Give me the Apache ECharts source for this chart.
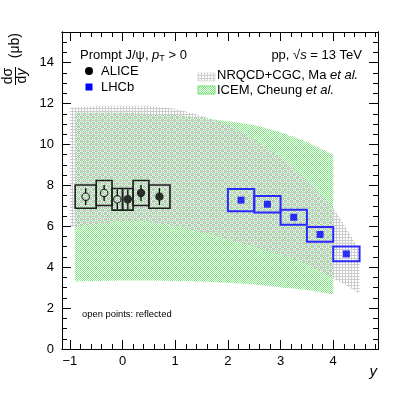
<!DOCTYPE html>
<html>
<head>
<meta charset="utf-8">
<script src="https://cdn.jsdelivr.net/npm/echarts@6/dist/echarts.min.js"></script>
<style>
html, body { margin: 0; padding: 0; background: #fff; }
#main { width: 407px; height: 397px; }
</style>
</head>
<body>
<div id="main"></div>
<script>
// axis ranges and tick labels
var X_MIN = -1.15, X_MAX = 4.85;
var Y_MIN = 0, Y_MAX = 15.5;
var xTicks = [-1, 0, 1, 2, 3, 4];
var yTicks = [0, 2, 4, 6, 8, 10, 12, 14];
var xMinorTicks = [];
for (var t = -1.0; t < X_MAX; t += 0.2) xMinorTicks.push(Math.round(t * 10) / 10);
var yMinorTicks = [];
for (var u = 0; u <= Y_MAX; u += 0.5) yMinorTicks.push(u);

// NRQCD+CGC, Ma et al. band
var nrqcdX  = [-1.0, -0.5, 0.0, 0.5, 1.0, 1.5, 2.0, 2.5, 3.0, 3.5, 4.0, 4.25, 4.5];
var nrqcdHi = [11.8, 11.9, 11.9, 11.9, 11.75, 11.4, 10.95, 10.25, 9.4, 8.25, 6.9, 5.9, 4.8];
var nrqcdLo = [5.95, 6.1, 6.25, 6.2, 6.0, 5.7, 5.35, 5.0, 4.6, 4.15, 3.45, 3.1, 2.7];

// ICEM, Cheung et al. band
var icemX  = [-0.9, -0.5, 0.0, 0.5, 1.0, 1.5, 2.0, 2.5, 3.0, 3.5, 4.0];
var icemHi = [11.55, 11.55, 11.55, 11.5, 11.45, 11.3, 11.13, 10.95, 10.6, 10.12, 9.5];
var icemLo = [3.3, 3.33, 3.35, 3.35, 3.33, 3.3, 3.24, 3.15, 3.02, 2.88, 2.68];

// ALICE (first three points are reflected)
var aliceY     = [-0.7, -0.35, -0.1, 0.1, 0.35, 0.7];
var aliceBinLo = [-0.9, -0.5, -0.2, 0.0, 0.2, 0.5];
var aliceBinHi = [-0.5, -0.2, 0.0, 0.2, 0.5, 0.9];
var aliceVal   = [7.45, 7.63, 7.32, 7.32, 7.63, 7.45];
var aliceStat  = [0.41, 0.39, 0.48, 0.48, 0.39, 0.41];
var aliceSys   = [0.57, 0.61, 0.53, 0.53, 0.61, 0.57];
var aliceOpen  = [true, true, true, false, false, false];

// LHCb
var lhcbY     = [2.25, 2.75, 3.25, 3.75, 4.25];
var lhcbBinLo = [2.0, 2.5, 3.0, 3.5, 4.0];
var lhcbBinHi = [2.5, 3.0, 3.5, 4.0, 4.5];
var lhcbVal   = [7.28, 7.08, 6.44, 5.6, 4.65];
var lhcbSys   = [0.54, 0.40, 0.37, 0.36, 0.36];

var FONT = '"Liberation Sans", Arial, sans-serif';

function makePattern(size, draw) {
    var c = document.createElement('canvas');
    c.width = size; c.height = size;
    draw(c.getContext('2d'));
    return c;
}
var grayPat = makePattern(3, function (ctx) {
    ctx.fillStyle = '#cdcdcd';
    ctx.fillRect(0, 0, 3, 1);
    ctx.fillRect(0, 0, 1, 3);
});
var greenPat = makePattern(2, function (ctx) {
    ctx.fillStyle = 'rgb(125,232,125)';
    ctx.fillRect(0, 0, 1, 1);
    ctx.fillRect(1, 1, 1, 1);
});
var grayFill = { image: grayPat, repeat: 'repeat' };
var greenFill = { image: greenPat, repeat: 'repeat' };

function bandRows(xs, lo, hi) {
    return xs.map(function (x, i) { return [x, lo[i], hi[i]]; });
}
function bandItem(xs, lo, hi, fill) {
    return function (params, api) {
        if (params.dataIndex !== 0) return null;
        var pts = [];
        for (var i = 0; i < xs.length; i++) pts.push(api.coord([xs[i], hi[i]]));
        for (var j = xs.length - 1; j >= 0; j--) pts.push(api.coord([xs[j], lo[j]]));
        return { type: 'polygon', shape: { points: pts }, style: { fill: fill } };
    };
}
function boxItem(color, lw) {
    return function (params, api) {
        var p0 = api.coord([api.value(2), api.value(1) + api.value(4)]);
        var p1 = api.coord([api.value(3), api.value(1) - api.value(4)]);
        return {
            type: 'rect',
            shape: { x: p0[0], y: p0[1], width: p1[0] - p0[0], height: p1[1] - p0[1] },
            style: { fill: 'none', stroke: color, lineWidth: lw }
        };
    };
}
var R = 3.7;
function statItem(params, api) {
    var top = api.coord([api.value(0), api.value(1) + api.value(2)]);
    var mid = api.coord([api.value(0), api.value(1)]);
    var bot = api.coord([api.value(0), api.value(1) - api.value(2)]);
    var st = { stroke: '#000', lineWidth: 1.3 };
    return {
        type: 'group',
        children: [
            { type: 'line', shape: { x1: top[0], y1: top[1], x2: mid[0], y2: mid[1] - R }, style: st },
            { type: 'line', shape: { x1: mid[0], y1: mid[1] + R, x2: bot[0], y2: bot[1] }, style: st }
        ]
    };
}

var aliceBoxes = aliceY.map(function (x, i) { return [x, aliceVal[i], aliceBinLo[i], aliceBinHi[i], aliceSys[i]]; });
var aliceStatRows = aliceY.map(function (x, i) { return [x, aliceVal[i], aliceStat[i]]; });
var aliceOpenPts = [], aliceFullPts = [];
aliceY.forEach(function (x, i) { (aliceOpen[i] ? aliceOpenPts : aliceFullPts).push([x, aliceVal[i]]); });
var lhcbBoxes = lhcbY.map(function (x, i) { return [x, lhcbVal[i], lhcbBinLo[i], lhcbBinHi[i], lhcbSys[i]]; });
var lhcbPts = lhcbY.map(function (x, i) { return [x, lhcbVal[i]]; });

function axisX(pos, ticks, len, labels) {
    return {
        type: 'value', position: pos, min: X_MIN, max: X_MAX,
        splitLine: { show: false },
        axisLine: { show: true, onZero: false, lineStyle: { color: '#000', width: 1 } },
        axisTick: { show: true, inside: true, length: len, customValues: ticks, lineStyle: { color: '#000', width: 1 } },
        axisLabel: {
            show: labels, customValues: ticks, margin: 6, color: '#000', fontSize: 13, fontFamily: FONT,
            formatter: function (v) { return String(v).replace('-', '\u2212'); }
        }
    };
}
function axisY(pos, ticks, len, labels) {
    return {
        type: 'value', position: pos, min: Y_MIN, max: Y_MAX,
        splitLine: { show: false },
        axisLine: { show: true, onZero: false, lineStyle: { color: '#000', width: 1 } },
        axisTick: { show: true, inside: true, length: len, customValues: ticks, lineStyle: { color: '#000', width: 1 } },
        axisLabel: { show: labels, customValues: ticks, margin: 8, color: '#000', fontSize: 13, fontFamily: FONT }
    };
}

var myChart = echarts.init(document.getElementById('main'), null, { renderer: 'canvas' });

var option = {
    animation: false,
    backgroundColor: '#fff',
    grid: { left: 62, right: 29, top: 32, bottom: 48 },
    xAxis: [
        axisX('bottom', xTicks, 9, true),
        axisX('bottom', xMinorTicks, 5, false),
        axisX('top', xTicks, 9, false),
        axisX('top', xMinorTicks, 5, false)
    ],
    yAxis: [
        axisY('left', yTicks, 9, true),
        axisY('left', yMinorTicks, 5, false),
        axisY('right', yTicks, 9, false),
        axisY('right', yMinorTicks, 5, false)
    ],
    series: [
        { type: 'custom', silent: true, data: bandRows(icemX, icemLo, icemHi), renderItem: bandItem(icemX, icemLo, icemHi, greenFill) },
        { type: 'custom', silent: true, data: bandRows(nrqcdX, nrqcdLo, nrqcdHi), renderItem: bandItem(nrqcdX, nrqcdLo, nrqcdHi, grayFill) },
        { type: 'custom', silent: true, data: aliceBoxes, renderItem: boxItem('#1e1e1e', 1.6) },
        { type: 'custom', silent: true, data: aliceStatRows, renderItem: statItem },
        {
            type: 'scatter', silent: true, data: aliceOpenPts, symbol: 'circle', symbolSize: 2 * R,
            itemStyle: { color: 'rgba(0,0,0,0)', borderColor: '#000', borderWidth: 1.1 }
        },
        {
            type: 'scatter', silent: true, data: aliceFullPts, symbol: 'circle', symbolSize: 2 * R + 1,
            itemStyle: { color: '#000' }
        },
        { type: 'custom', silent: true, data: lhcbBoxes, renderItem: boxItem('#2a2aff', 2) },
        {
            type: 'scatter', silent: true, data: lhcbPts, symbol: 'rect', symbolSize: 7,
            itemStyle: { color: '#0000ff' }
        }
    ],
    graphic: [
        // y axis title
        {
            type: 'group', x: 15, y: 33, rotation: Math.PI / 2, silent: true,
            children: [
                { type: 'text', x: 0, y: 0, style: { text: '(\u03bcb)', font: '14px ' + FONT, align: 'right', verticalAlign: 'middle', fill: '#000' } },
                { type: 'text', x: -43, y: -7, style: { text: 'd\u03c3', font: '14px ' + FONT, align: 'center', verticalAlign: 'middle', fill: '#000' } },
                {
                    type: 'text', x: -43, y: 7.5,
                    style: {
                        text: '{n|d}{i|y}', align: 'center', verticalAlign: 'middle', fill: '#000',
                        rich: { n: { fontSize: 14, fontFamily: FONT }, i: { fontSize: 14, fontFamily: FONT, fontStyle: 'italic' } }
                    }
                },
                { type: 'line', shape: { x1: -52, y1: 0.5, x2: -34, y2: 0.5 }, style: { stroke: '#000', lineWidth: 1 } }
            ]
        },
        // x axis title
        { type: 'text', x: 377, y: 372, silent: true, style: { text: 'y', font: 'italic 15px ' + FONT, align: 'right', verticalAlign: 'middle', fill: '#000' } },
        // legend / labels
        {
            type: 'text', x: 80, y: 55, silent: true,
            style: {
                text: '{n|Prompt J/\u03c8, }{i|p}{s|T}{n| > 0}', verticalAlign: 'middle', fill: '#000',
                rich: {
                    n: { fontSize: 13, fontFamily: FONT, lineHeight: 16 },
                    i: { fontSize: 13, fontFamily: FONT, fontStyle: 'italic', lineHeight: 16 },
                    s: { fontSize: 9, fontFamily: FONT, lineHeight: 8, verticalAlign: 'bottom' }
                }
            }
        },
        {
            type: 'text', x: 362, y: 55, silent: true,
            style: {
                text: '{n|pp, \u221a}{i|s}{n| = 13 TeV}', align: 'right', verticalAlign: 'middle', fill: '#000',
                rich: {
                    n: { fontSize: 13, fontFamily: FONT },
                    i: { fontSize: 13, fontFamily: FONT, fontStyle: 'italic' }
                }
            }
        },
        { type: 'circle', silent: true, shape: { cx: 89, cy: 71, r: 4 }, style: { fill: '#000' } },
        { type: 'text', x: 101, y: 71, silent: true, style: { text: 'ALICE', font: '13px ' + FONT, verticalAlign: 'middle', fill: '#000' } },
        { type: 'rect', silent: true, shape: { x: 85.5, y: 83.5, width: 7, height: 7 }, style: { fill: '#0000ff' } },
        { type: 'text', x: 101, y: 87, silent: true, style: { text: 'LHCb', font: '13px ' + FONT, verticalAlign: 'middle', fill: '#000' } },
        { type: 'rect', silent: true, shape: { x: 198, y: 73, width: 17, height: 8 }, style: { fill: grayFill, stroke: '#dddddd', lineWidth: 1 } },
        {
            type: 'text', x: 217, y: 75, silent: true,
            style: {
                text: '{n|NRQCD+CGC, Ma }{i|et al.}', verticalAlign: 'middle', fill: '#000',
                rich: { n: { fontSize: 13, fontFamily: FONT }, i: { fontSize: 13, fontFamily: FONT, fontStyle: 'italic' } }
            }
        },
        { type: 'rect', silent: true, shape: { x: 198, y: 86, width: 17, height: 8 }, style: { fill: greenFill, stroke: 'rgb(110,220,110)', lineWidth: 1 } },
        {
            type: 'text', x: 217, y: 90, silent: true,
            style: {
                text: '{n|ICEM, Cheung }{i|et al.}', verticalAlign: 'middle', fill: '#000',
                rich: { n: { fontSize: 13, fontFamily: FONT }, i: { fontSize: 13, fontFamily: FONT, fontStyle: 'italic' } }
            }
        },
        { type: 'text', x: 82, y: 314, silent: true, style: { text: 'open points: reflected', font: '9.4px ' + FONT, verticalAlign: 'middle', fill: '#000' } }
    ]
};

myChart.setOption(option);
</script>
</body>
</html>
